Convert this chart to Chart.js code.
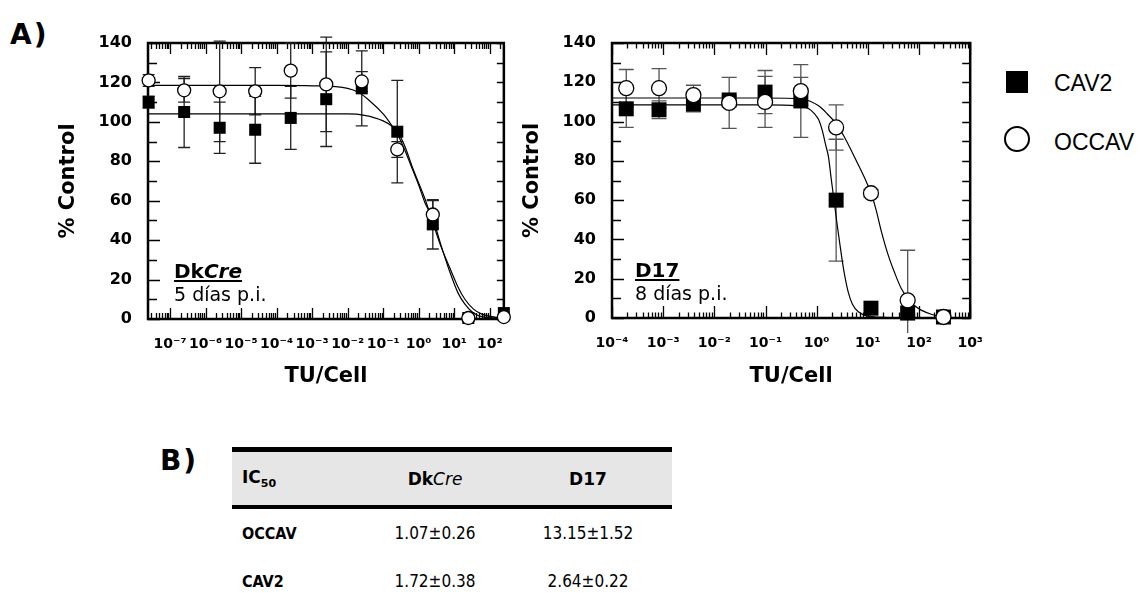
<!DOCTYPE html>
<html>
<head>
<meta charset="utf-8">
<script src="https://cdn.jsdelivr.net/npm/chart.js@4.4.1/dist/chart.umd.min.js"></script>
<style>
  body { margin: 0; width: 1144px; height: 608px; background: #fff; position: relative; overflow: hidden; font-family: 'DejaVu Sans', sans-serif; color: #000; }
  canvas { position: absolute; top: 0; }
  #dkChart { left: 0; }
  #d17Chart { left: 490px; }
  .panel { position: absolute; font: bold 28px 'DejaVu Sans'; letter-spacing: 2px; line-height: 32px; }
  .key { position: absolute; left: 1054px; font: 23px 'Liberation Sans', sans-serif; line-height: 22px; }
  .mark { position: absolute; box-sizing: border-box; }
  #ic50 { position: absolute; left: 232px; top: 447px; width: 440px; border-collapse: separate; border-spacing: 0; table-layout: fixed; }
  #ic50 th { height: 53px; padding: 0; background: #e6e6e6; border-top: 5px solid #000; border-bottom: 4px solid #000; font: bold 17px 'DejaVu Sans'; }
  #ic50 th i { font-weight: normal; }
  #ic50 td { height: 48px; padding: 0; font: 17px 'DejaVu Sans Condensed', 'DejaVu Sans'; text-align: center; }
  #ic50 td:first-child { font-weight: bold; font-size: 16px; }
  #ic50 .c1 { text-align: left; padding-left: 10px; }
  #ic50 .c3 { padding-right: 16px; }
  #ic50 sub { font-size: 11px; }
</style>
</head>
<body>
<div class="panel" style="left:10px; top:19px;">A)</div>
<div class="panel" style="left:160px; top:445px;">B)</div>

<canvas id="dkChart" width="520" height="400"></canvas>
<canvas id="d17Chart" width="510" height="400"></canvas>

<div class="mark" style="left:1006px; top:71px; width:22px; height:22px; background:#000;"></div>
<div class="key" id="keyCav2" style="top:72px;"></div>
<div class="mark" style="left:1004px; top:126px; width:26px; height:26px; border:2px solid #000; border-radius:50%;"></div>
<div class="key" id="keyOccav" style="top:131px;"></div>

<table id="ic50">
  <colgroup><col style="width:118px"><col style="width:170px"><col style="width:152px"></colgroup>
  <thead><tr><th class="c1">IC<sub>50</sub></th><th>Dk<i>Cre</i></th><th class="c3">D17</th></tr></thead>
  <tbody id="ic50Body"></tbody>
</table>

<script>
// ---- data -------------------------------------------------------------
const seriesNames = ['CAV2', 'OCCAV'];

// DkCre, 5 días p.i. -- 10-fold dilution series
const dkDose     = [2.5e-8, 2.5e-7, 2.5e-6, 2.5e-5, 2.5e-4, 2.5e-3, 2.5e-2, 0.25, 2.5, 25, 250];
const dkCav2     = [110, 105, 97, 96, 102, 111.5, 117, 95, 48, 0.5, 3];
const dkCav2Sd   = [3, 18, 13, 17, 16, 24, 19, 26, 12.5, 0, 0];
const dkOccav    = [121, 116, 115.5, 115.5, 126, 119, 120.5, 86, 53, 0.5, 1];
const dkOccavSd  = [3, 6, 25.5, 12, 14, 24, 5, 4, 7, 0, 0];
const dkCav2FitX  = [2.4e-8, 1e-2, 0.03, 0.1, 0.17, 0.25, 0.4, 0.7, 1, 1.5, 2.5, 4, 7.5, 13, 20, 35, 60, 250];
const dkCav2FitY  = [104, 104, 103.3, 100.5, 98, 95, 88, 76, 69, 61, 49, 38, 26, 16, 10, 5, 2.5, 0.3];
const dkOccavFitX = [2.4e-8, 1e-4, 1e-3, 0.01, 0.02, 0.04, 0.1, 0.17, 0.25, 0.4, 0.7, 1, 1.5, 2.5, 4, 7.5, 13, 20, 35, 60, 250];
const dkOccavFitY = [118.5, 118.5, 118.3, 117, 115, 111, 104, 98.5, 94, 86, 75, 68, 59, 51, 39, 24, 13, 7.5, 3, 1.2, 0.3];
const dkTickExp  = [-7, -6, -5, -4, -3, -2, -1, 0, 1, 2];

// D17, 8 días p.i. -- 5-fold dilution series
const d17Dose     = [1.9e-4, 8.3e-4, 3.9e-3, 0.0195, 0.098, 0.49, 2.4, 11.5, 60, 300];
const d17Cav2     = [106.5, 106, 109, 111, 115, 110.5, 60, 5, 2.5, 0.5];
const d17Cav2Sd   = [9.5, 4.5, 4, 2, 11, 18.5, 31, 0, 0, 0];
const d17Occav    = [117, 117, 113.5, 109.5, 110, 115.5, 97, 63.5, 9, 0.5];
const d17OccavSd  = [9.5, 10, 5, 13, 13, 7, 11.5, 2, 25.5, 0];
const d17Cav2FitX  = [1e-4, 0.1, 0.4, 0.7, 0.9, 1.09, 1.3, 1.5, 1.7, 1.9, 2.13, 2.5, 2.86, 3.4, 4.15, 5, 6.5, 10, 30, 1000];
const d17Cav2FitY  = [108.5, 108.5, 108, 106.5, 104, 101, 95, 88, 82, 72, 62, 48, 37, 24, 13, 7, 3.2, 1, 0.2, 0];
const d17OccavFitX = [1e-4, 0.1, 0.5, 1.09, 1.6, 2.46, 3.5, 4.8, 6.5, 8.75, 11.8, 14.5, 18.4, 25, 33.4, 45, 60, 80, 110, 180, 300, 1000];
const d17OccavFitY = [112, 112, 111.5, 108, 104, 98.6, 92, 85, 78, 71, 63, 55, 44, 32, 23, 15, 10, 6.5, 4, 1.8, 0.5, 0];
const d17TickExp  = [-4, -3, -2, -1, 0, 1, 2, 3];

const yTicks = [0, 20, 40, 60, 80, 100, 120, 140];

// IC50 table
const ic50Rows = [
  ['OCCAV', '1.07±0.26', '13.15±1.52'],
  ['CAV2',  '1.72±0.38', '2.64±0.22']
];

// ---- helpers ----------------------------------------------------------
const SUP = { '-': '⁻', '0': '⁰', '1': '¹', '2': '²', '3': '³', '4': '⁴', '5': '⁵', '6': '⁶', '7': '⁷', '8': '⁸', '9': '⁹' };
function pow10Label(v) {
  const e = Math.round(Math.log10(v));
  return '10' + String(e).split('').map(c => SUP[c]).join('');
}
function pts(xs, ys) {
  return xs.map((x, i) => ({ x: x, y: ys[i] }));
}

Chart.defaults.color = '#000';
Chart.defaults.font.family = "'DejaVu Sans', sans-serif";

// frame, inward ticks on all four sides, error bars and the panel caption
const frameTicks = {
  id: 'frameTicks',
  beforeDatasetsDraw(chart, args, opts) {
    const { ctx, chartArea: a, scales: { x, y } } = chart;
    ctx.save();
    ctx.strokeStyle = '#000';
    ctx.lineWidth = 1.3;
    ctx.beginPath();
    const e0 = Math.floor(Math.log10(x.min)), e1 = Math.ceil(Math.log10(x.max));
    for (let e = e0; e <= e1; e++) {
      for (let m = 1; m <= 9; m++) {
        const v = m * Math.pow(10, e);
        if (v < x.min * 0.999 || v > x.max * 1.001) continue;
        const px = Math.round(x.getPixelForValue(v)) + 0.5;
        const len = m === 1 ? opts.logMajor : opts.logMinor;
        ctx.moveTo(px, a.bottom); ctx.lineTo(px, a.bottom - len);
        ctx.moveTo(px, a.top); ctx.lineTo(px, a.top + len);
      }
    }
    for (let v = y.min; v <= y.max; v += 10) {
      const py = Math.round(y.getPixelForValue(v)) + 0.5;
      const len = v % 20 === 0 ? opts.yMajor : opts.yMinor;
      ctx.moveTo(a.left, py); ctx.lineTo(a.left + len, py);
      ctx.moveTo(a.right, py); ctx.lineTo(a.right - opts.yRight, py);
    }
    ctx.stroke();
    ctx.lineWidth = 2.5;
    ctx.strokeRect(a.left, a.top, a.width, a.height);

    // error bars (mean ± SD)
    ctx.strokeStyle = opts.errColor;
    ctx.lineWidth = 1.3;
    chart.data.datasets.forEach((ds, i) => {
      if (!ds.sd) return;
      const meta = chart.getDatasetMeta(i);
      ds.data.forEach((p, j) => {
        const sd = ds.sd[j];
        if (!sd) return;
        const px = meta.data[j].x;
        const yHi = y.getPixelForValue(p.y + sd);
        const yLo = Math.min(y.getPixelForValue(p.y - sd), a.bottom + 15);
        ctx.beginPath();
        ctx.moveTo(px, yHi); ctx.lineTo(px, yLo);
        ctx.moveTo(px - opts.cap, yHi); ctx.lineTo(px + opts.cap, yHi);
        if (yLo < a.bottom + 15) { ctx.moveTo(px - opts.cap, yLo); ctx.lineTo(px + opts.cap, yLo); }
        ctx.stroke();
      });
    });

    // caption in the lower-left corner
    const tx = a.left + opts.dx;
    const base = a.bottom - 41;
    ctx.fillStyle = '#000';
    ctx.textBaseline = 'alphabetic';
    ctx.textAlign = 'left';
    ctx.font = "bold 20px 'DejaVu Sans'";
    ctx.fillText(opts.title, tx, base);
    let w = ctx.measureText(opts.title).width;
    if (opts.titleItalic) {
      ctx.font = "italic bold 20px 'DejaVu Sans'";
      ctx.fillText(opts.titleItalic, tx + w, base);
      w += ctx.measureText(opts.titleItalic).width;
    }
    ctx.fillRect(tx, base + 2, w, 2);
    ctx.font = "19px 'DejaVu Sans'";
    ctx.fillText(opts.sub, tx, a.bottom - 18);
    ctx.restore();
  }
};

function buildChart(id, c) {
  return new Chart(document.getElementById(id), {
    type: 'scatter',
    data: {
      datasets: [
        { label: seriesNames[1], data: pts(c.dose, c.occav), sd: c.occavSd, order: 0,
          pointStyle: 'circle', pointRadius: c.circleR, pointHoverRadius: c.circleR,
          backgroundColor: '#fff', borderColor: '#000', borderWidth: 1.3, clip: false },
        { label: seriesNames[0], data: pts(c.dose, c.cav2), sd: c.cav2Sd, order: 1,
          pointStyle: 'rect', pointRadius: c.squareR, pointHoverRadius: c.squareR,
          backgroundColor: '#000', borderColor: '#000', borderWidth: 0, clip: false },
        { label: seriesNames[1] + ' fit', data: pts(c.occavFitX, c.occavFitY), order: 2,
          showLine: true, pointRadius: 0, borderColor: '#000', borderWidth: 1.2,
          cubicInterpolationMode: 'monotone' },
        { label: seriesNames[0] + ' fit', data: pts(c.cav2FitX, c.cav2FitY), order: 3,
          showLine: true, pointRadius: 0, borderColor: '#000', borderWidth: 1.2,
          cubicInterpolationMode: 'monotone' }
      ]
    },
    options: {
      responsive: false,
      animation: false,
      events: [],
      layout: { padding: { top: 43, right: c.padRight, left: 0, bottom: 0 } },
      plugins: {
        legend: { display: false },
        tooltip: { enabled: false },
        frameTicks: c.frame
      },
      scales: {
        x: {
          type: 'logarithmic',
          min: c.xMin,
          max: c.xMax,
          grid: { display: false, drawTicks: false },
          border: { display: false },
          afterBuildTicks: s => { s.ticks = c.tickExp.map(e => ({ value: Math.pow(10, e) })); },
          afterFit: s => { s.height = c.xHeight; },
          ticks: { autoSkip: false, maxRotation: 0, padding: 17, font: { size: 14, weight: 'bold' }, callback: v => pow10Label(v) },
          title: { display: true, text: 'TU/Cell', font: { size: 21, weight: 'bold' }, padding: { top: 0, bottom: 11 } }
        },
        y: {
          min: 0,
          max: 140,
          grid: { display: false, drawTicks: false },
          border: { display: false },
          afterBuildTicks: s => { s.ticks = yTicks.map(v => ({ value: v })); },
          afterFit: s => { s.width = c.yWidth; },
          ticks: { padding: 16, font: { size: 16, weight: 'bold' } },
          title: { display: true, text: '% Control', font: { size: 21, weight: 'bold' }, padding: { top: c.yTitlePad, bottom: 0 } }
        }
      }
    },
    plugins: [frameTicks]
  });
}

buildChart('dkChart', {
  dose: dkDose, cav2: dkCav2, cav2Sd: dkCav2Sd, occav: dkOccav, occavSd: dkOccavSd,
  cav2FitX: dkCav2FitX, cav2FitY: dkCav2FitY, occavFitX: dkOccavFitX, occavFitY: dkOccavFitY,
  tickExp: dkTickExp, xMin: 2.4e-8, xMax: 250,
  yWidth: 148, xHeight: 81, padRight: 12, yTitlePad: 56,
  squareR: 8.5, circleR: 6.5,
  frame: { logMajor: 11, logMinor: 6, yMajor: 12, yMinor: 9, yRight: 7, cap: 6, errColor: '#222',
           title: 'Dk', titleItalic: 'Cre', sub: '5 días p.i.', dx: 26 }
});

buildChart('d17Chart', {
  dose: d17Dose, cav2: d17Cav2, cav2Sd: d17Cav2Sd, occav: d17Occav, occavSd: d17OccavSd,
  cav2FitX: d17Cav2FitX, cav2FitY: d17Cav2FitY, occavFitX: d17OccavFitX, occavFitY: d17OccavFitY,
  tickExp: d17TickExp, xMin: 1e-4, xMax: 1000,
  yWidth: 122, xHeight: 82, padRight: 27, yTitlePad: 30,
  squareR: 10.6, circleR: 7.5,
  frame: { logMajor: 12, logMinor: 5.5, yMajor: 12, yMinor: 9, yRight: 8, cap: 7.5, errColor: '#555',
           title: 'D17', titleItalic: '', sub: '8 días p.i.', dx: 23 }
});

// legend labels
document.getElementById('keyCav2').textContent = seriesNames[0];
document.getElementById('keyOccav').textContent = seriesNames[1];

// IC50 rows
const body = document.getElementById('ic50Body');
ic50Rows.forEach(r => {
  const tr = document.createElement('tr');
  r.forEach((txt, i) => {
    const td = document.createElement('td');
    td.textContent = txt;
    if (i === 0) td.className = 'c1';
    if (i === 2) td.className = 'c3';
    tr.appendChild(td);
  });
  body.appendChild(tr);
});
</script>
</body>
</html>
